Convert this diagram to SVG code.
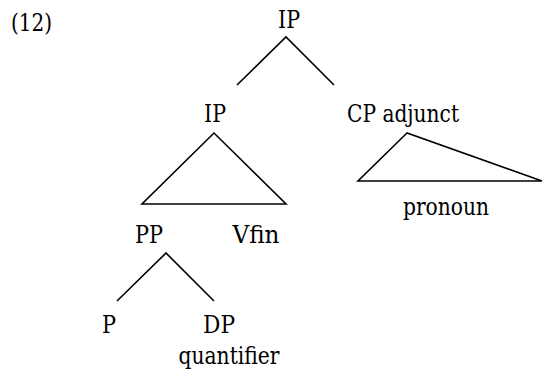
<svg xmlns="http://www.w3.org/2000/svg" width="543" height="372" viewBox="0 0 543 372">
<style>
text{font-family:'DejaVu Serif',serif;font-size:25px;fill:#000}
.c{text-anchor:middle}
.e{fill:none;stroke:#000;stroke-width:1.6;stroke-linejoin:miter}
</style>
<rect width="543" height="372" fill="#fff"/>
<text x="11" y="31" textLength="41" lengthAdjust="spacingAndGlyphs">(12)</text>
<g id="n-ip-top"><text class="c" x="289" y="28" textLength="22" lengthAdjust="spacingAndGlyphs">IP</text></g>
<g id="n-ip"><text class="c" x="215" y="122" textLength="22" lengthAdjust="spacingAndGlyphs">IP</text></g>
<g id="n-cp"><text x="347" y="122" textLength="112" lengthAdjust="spacingAndGlyphs">CP adjunct</text></g>
<g id="n-pronoun"><text class="c" x="446" y="215" textLength="86" lengthAdjust="spacingAndGlyphs">pronoun</text></g>
<g id="n-pp"><text class="c" x="149" y="243" textLength="28" lengthAdjust="spacingAndGlyphs">PP</text></g>
<g id="n-vfin"><text class="c" x="256" y="243" textLength="47" lengthAdjust="spacingAndGlyphs">Vfin</text></g>
<g id="n-p"><text class="c" x="109" y="333" textLength="14" lengthAdjust="spacingAndGlyphs">P</text></g>
<g id="n-dp"><text class="c" x="219" y="333" textLength="32" lengthAdjust="spacingAndGlyphs">DP</text></g>
<g id="n-quant"><text class="c" x="229" y="364" textLength="101" lengthAdjust="spacingAndGlyphs">quantifier</text></g>
<g id="connectors">
<polyline class="e" points="237,85 286,37 334,85"/>
<polygon class="e" points="214,133 142,204 286,204"/>
<polygon class="e" points="407,133 358,181 542,181"/>
<polyline class="e" points="117,301 166,253 214,301"/>
</g>
</svg>
